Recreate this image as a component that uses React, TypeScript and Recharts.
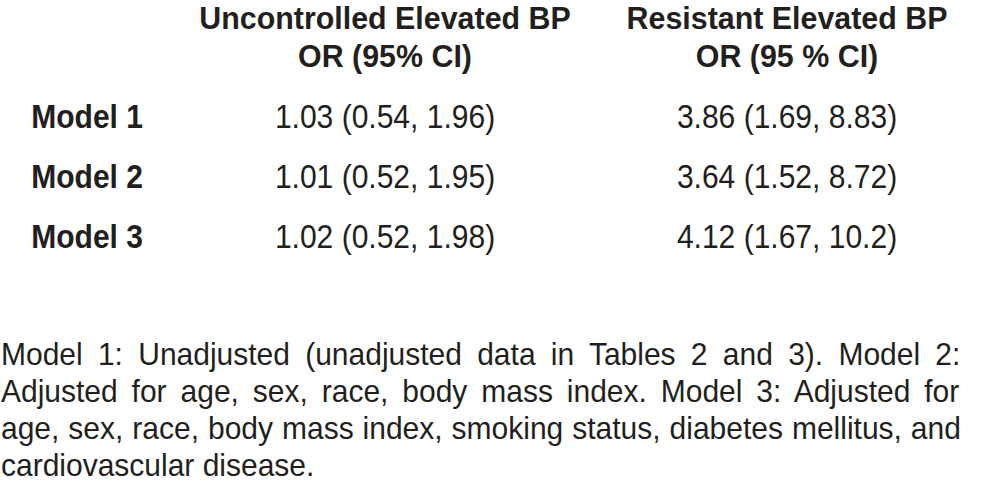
import React from 'react'
import { ScatterChart, Scatter, XAxis, YAxis } from 'recharts'

const columns = ['Uncontrolled Elevated BP', 'Resistant Elevated BP']
const subheads = ['OR (95% CI)', 'OR (95 % CI)']
const models = ['Model 1', 'Model 2', 'Model 3']

const uncontrolledOR = [1.03, 1.01, 1.02]
const uncontrolledLow = [0.54, 0.52, 0.52]
const uncontrolledHigh = [1.96, 1.95, 1.98]

const resistantOR = [3.86, 3.64, 4.12]
const resistantLow = [1.69, 1.52, 1.67]
const resistantHigh = [8.83, 8.72, 10.2]

const footnoteLines = [
  'Model 1: Unadjusted (unadjusted data in Tables 2 and 3). Model 2:',
  'Adjusted for age, sex, race, body mass index. Model 3: Adjusted for',
  'age, sex, race, body mass index, smoking status, diabetes mellitus, and',
  'cardiovascular disease.',
]

const FONT = '"Liberation Sans", Arial, sans-serif'
const INK = '#231f20'
const SX = 0.91 // condensed look
const FOOT_SIZE = 31.5
const FOOT_SX = 0.952

const cell = (or: number, lo: number, hi: number) => `${or} (${lo}, ${hi})`

const buildRows = (col: string, or: number[], lo: number[], hi: number[]) =>
  models.map((m, i) => ({ col, model: m, text: cell(or[i], lo[i], hi[i]) }))

const uncontrolledRows = buildRows(columns[0], uncontrolledOR, uncontrolledLow, uncontrolledHigh)
const resistantRows = buildRows(columns[1], resistantOR, resistantLow, resistantHigh)

const Narrow = ({ x, y, anchor = 'middle', bold = false, size = 33, sx = SX, children, ...rest }: any) => (
  <text
    transform={`translate(${x},${y}) scale(${sx},1)`}
    textAnchor={anchor}
    fontFamily={FONT}
    fontWeight={bold ? 'bold' : 'normal'}
    fontSize={size}
    fill={INK}
    {...rest}
  >
    {children}
  </text>
)

const HeaderTick = (props: any) => {
  const { x, y, payload } = props
  const idx = columns.indexOf(payload.value)
  return (
    <g>
      <Narrow x={x} y={y - 38} bold size={32} sx={0.95}>{payload.value}</Narrow>
      <Narrow x={x} y={y} bold size={32} sx={0.95}>{subheads[idx]}</Narrow>
    </g>
  )
}

const ModelTick = (props: any) => {
  const { x, y, payload } = props
  return <Narrow x={x} y={y + 12} anchor="end" bold>{payload.value}</Narrow>
}

const CellText = (props: any) => {
  const { cx, cy, payload } = props
  return <Narrow x={cx} y={cy + 12}>{payload.text}</Narrow>
}

let measureCtx: CanvasRenderingContext2D | null = null
const measure = (s: string) => {
  if (!measureCtx) measureCtx = document.createElement('canvas').getContext('2d')
  if (!measureCtx) return 0
  measureCtx.font = `${FOOT_SIZE}px "Liberation Sans"`
  return measureCtx.measureText(s).width
}

const Footnote = () => {
  const lineWidth = 960 / FOOT_SX
  return (
    <g>
      {footnoteLines.map((line, i) => {
        const last = i === footnoteLines.length - 1
        const spaces = line.split(' ').length - 1
        const ws = last ? 0 : Math.max(0, (lineWidth - measure(line)) / spaces)
        return (
          <Narrow
            key={i}
            x={1}
            y={365 + i * 37}
            anchor="start"
            size={FOOT_SIZE}
            sx={FOOT_SX}
            style={{ wordSpacing: `${ws}px` }}
          >
            {line}
          </Narrow>
        )
      })}
    </g>
  )
}

export default function App() {
  return (
    <div style={{ position: 'absolute', left: 0, top: 0, background: '#fff' }}>
      <ScatterChart width={992} height={490} margin={{ top: 0, right: 4, bottom: 224, left: 0 }}>
        <XAxis
          dataKey="col"
          type="category"
          orientation="top"
          allowDuplicatedCategory={false}
          height={86}
          axisLine={false}
          tickLine={false}
          tickSize={0}
          tickMargin={19}
          tick={<HeaderTick />}
        />
        <YAxis
          dataKey="model"
          type="category"
          reversed
          allowDuplicatedCategory={false}
          width={184}
          axisLine={false}
          tickLine={false}
          tickSize={0}
          tickMargin={41}
          tick={<ModelTick />}
        />
        <Scatter data={uncontrolledRows} shape={<CellText />} isAnimationActive={false} />
        <Scatter data={resistantRows} shape={<CellText />} isAnimationActive={false} />
        <Footnote />
      </ScatterChart>
    </div>
  )
}
